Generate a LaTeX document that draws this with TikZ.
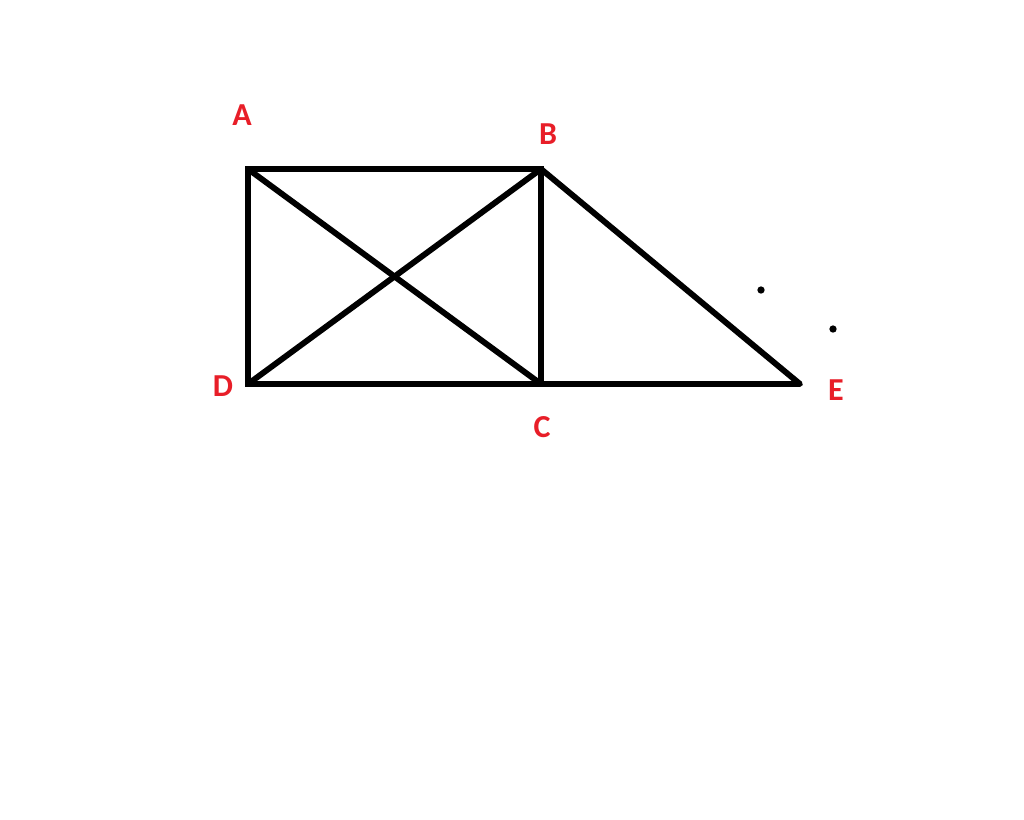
\documentclass[tikz,border=0pt]{standalone}
\usepackage{fontspec}
\setmainfont{Carlito}
\definecolor{lblred}{RGB}{232,30,40}
\tikzset{
  edge/.style={line width=4.4pt, black},
  lbl/.style={text=lblred, font=\fontsize{24}{27}\selectfont\bfseries, inner sep=0pt},
  pt/.style={coordinate},
  spot/.style={circle, fill=black, inner sep=0pt, minimum size=5.5pt}
}
\begin{document}
\begin{tikzpicture}[x=0.75pt,y=-0.75pt]
\useasboundingbox[fill=white] (0,0) rectangle (1024,819);
\node[pt] (A) at (248,169) {};
\node[pt] (B) at (541,169) {};
\node[pt] (C) at (541,384) {};
\node[pt] (D) at (248,384) {};
\node[pt] (E) at (800,384) {};
\draw[edge, line join=miter] (A) -- (B) -- (C) -- (D) -- cycle;
\draw[edge] (A) -- (C);
\draw[edge] (D) -- (B);
\draw[edge, line join=round] (B) -- (E) -- (C);
\node[lbl] (la) at (242,115) {A};
\node[lbl] (lb) at (548,134) {B};
\node[lbl] (lc) at (542,427) {C};
\node[lbl] (ld) at (223,386) {D};
\node[lbl] (le) at (836,390) {E};
\node[spot] (p1) at (761,290) {};
\node[spot] (p2) at (833,329) {};
\end{tikzpicture}
\end{document}
